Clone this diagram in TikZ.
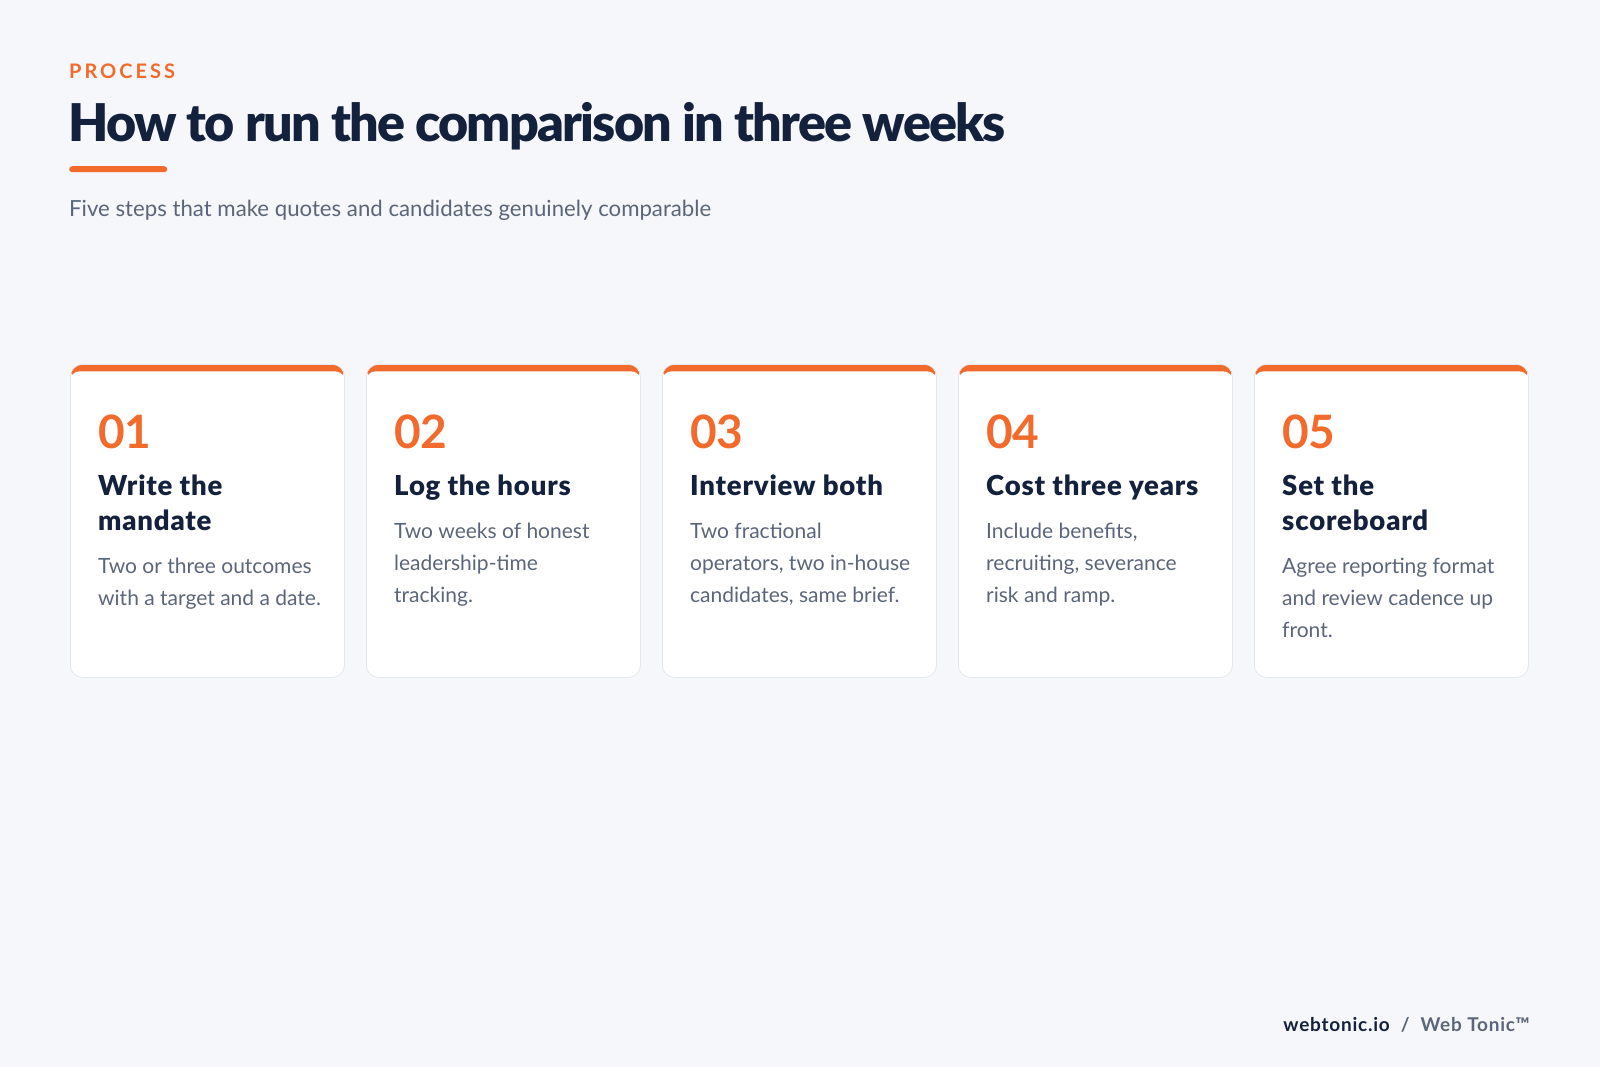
\documentclass[tikz,border=0pt]{standalone}
\usepackage{fontspec}
\setmainfont{Lato}
\newfontfamily\heavyfont{Lato Black}
\definecolor{pagebg}{HTML}{F5F7FA}
\definecolor{accent}{HTML}{F26A2C}
\definecolor{ink}{HTML}{13213C}
\definecolor{muted}{HTML}{5B667A}
\definecolor{cardline}{HTML}{E4E8EE}
\begin{document}
\begin{tikzpicture}[x=1pt, y=-1pt,
    card/.style={draw=cardline, line width=0.8pt, fill=white, rounded corners=12pt,
        minimum width=274pt, minimum height=313pt, inner sep=0pt, anchor=north west,
        path picture={
            \fill[accent] (path picture bounding box.north west)
                rectangle ([yshift=-16pt]path picture bounding box.north east);
            \fill[white, rounded corners=9pt] ([yshift=-7pt]path picture bounding box.north west)
                rectangle (path picture bounding box.south east);}},
    num/.style={anchor=base west, inner sep=0pt, text=accent,
        font=\fontsize{46}{46}\selectfont\bfseries},
    steptitle/.style={anchor=base west, inner sep=0pt, text=ink, align=left,
        font=\fontsize{27.5}{35}\heavyfont\selectfont\addfontfeature{LetterSpace=3}},
    stepbody/.style={anchor=base west, inner sep=0pt, text=muted, align=left,
        font=\fontsize{21}{32}\selectfont},
]

    % Hintergrund
    \fill[pagebg] (0,0) rectangle (1600,1067);
    \useasboundingbox (0,0) rectangle (1600,1067);

    % Kopf
    \node[anchor=base west, inner sep=0pt, text=accent,
        font=\fontsize{20}{20}\selectfont\bfseries\addfontfeature{LetterSpace=15}] (kicker) at (69,79) {PROCESS};
    \node[anchor=base west, inner sep=0pt, text=ink,
        font=\fontsize{52}{52}\heavyfont\selectfont\addfontfeature{LetterSpace=-3.4}] (headline) at (68,142) {How to run the comparison in three weeks};
    \node[anchor=north west, inner sep=0pt, fill=accent, rounded corners=3pt,
        minimum width=98pt, minimum height=6pt] (rule) at (69,166) {};
    \node[anchor=base west, inner sep=0pt, text=muted,
        font=\fontsize{22.2}{22}\selectfont] (subline) at (69,217) {Five steps that make quotes and candidates genuinely comparable};

    % Karten
    \node[card] (c1) at (70,364) {};
    \node[card] (c2) at (366,364) {};
    \node[card] (c3) at (662,364) {};
    \node[card] (c4) at (958,364) {};
    \node[card] (c5) at (1254,364) {};

    % Nummern
    \node[num] (n1) at ([xshift=28pt, yshift=-84pt]c1.north west) {01};
    \node[num] (n2) at ([xshift=28pt, yshift=-84pt]c2.north west) {02};
    \node[num] (n3) at ([xshift=28pt, yshift=-84pt]c3.north west) {03};
    \node[num] (n4) at ([xshift=28pt, yshift=-84pt]c4.north west) {04};
    \node[num] (n5) at ([xshift=28pt, yshift=-84pt]c5.north west) {05};

    % Titel (Basis = letzte Zeile)
    \node[steptitle] (t1) at ([xshift=28pt, yshift=-166pt]c1.north west) {Write the\\mandate};
    \node[steptitle] (t2) at ([xshift=28pt, yshift=-131pt]c2.north west) {Log the hours};
    \node[steptitle] (t3) at ([xshift=28pt, yshift=-131pt]c3.north west) {Interview both};
    \node[steptitle] (t4) at ([xshift=28pt, yshift=-131pt]c4.north west) {Cost three years};
    \node[steptitle] (t5) at ([xshift=28pt, yshift=-166pt]c5.north west) {Set the\\scoreboard};

    % Texte
    \node[stepbody] (b1) at ([xshift=28pt, yshift=-241pt]c1.north west) {Two or three outcomes\\with a target and a date.};
    \node[stepbody] (b2) at ([xshift=28pt, yshift=-238pt]c2.north west) {Two weeks of honest\\leadership-time\\tracking.};
    \node[stepbody] (b3) at ([xshift=28pt, yshift=-238pt]c3.north west) {Two fractional\\operators, two in-house\\candidates, same brief.};
    \node[stepbody] (b4) at ([xshift=28pt, yshift=-238pt]c4.north west) {Include benefits,\\recruiting, severance\\risk and ramp.};
    \node[stepbody] (b5) at ([xshift=28pt, yshift=-273pt]c5.north west) {Agree reporting format\\and review cadence up\\front.};

    % Fuss
    \node[anchor=base east, inner sep=0pt, text=muted,
        font=\fontsize{19}{19}\selectfont\bfseries\addfontfeature{LetterSpace=4}] (footer) at (1530,1031)
        {\textcolor{ink}{webtonic.io}\hspace{11pt}/\hspace{11pt}Web Tonic™};

\end{tikzpicture}
\end{document}
